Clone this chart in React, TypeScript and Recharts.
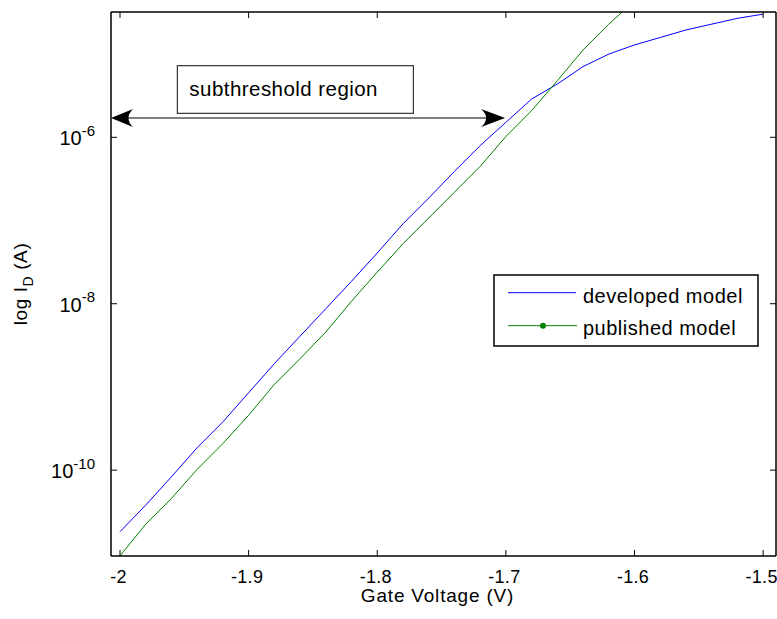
import React from 'react';
import { LineChart, Line, XAxis, YAxis, Legend, ReferenceLine, ReferenceArea } from 'recharts';

// Gate voltage (V)
const gateVoltage = [
  -2.0, -1.98, -1.96, -1.94, -1.92, -1.9, -1.88, -1.86, -1.84, -1.82, -1.8, -1.78, -1.76,
  -1.74, -1.72, -1.7, -1.68, -1.66, -1.64, -1.62, -1.6, -1.58, -1.56, -1.54, -1.52, -1.5,
];
// log10 of drain current (A)
const developedLogId = [
  -10.74, -10.42, -10.08, -9.73, -9.42, -9.07, -8.72, -8.39, -8.06, -7.73, -7.39, -7.04, -6.73,
  -6.41, -6.1, -5.82, -5.54, -5.36, -5.15, -5.0, -4.89, -4.8, -4.71, -4.64, -4.57, -4.52,
];
const publishedLogId: (number | null)[] = [
  -11.03, -10.65, -10.34, -9.99, -9.68, -9.34, -8.97, -8.66, -8.34, -7.97, -7.62, -7.28, -6.97,
  -6.66, -6.35, -5.99, -5.68, -5.32, -4.95, -4.64, -4.36, null, null, null, null, null,
];

const xTicks = [-2, -1.9, -1.8, -1.7, -1.6, -1.5];
const yTicks = [-10, -8, -6];
const xDomain = [-2.007, -1.49];
const yDomain = [-11.032, -4.494];
const seriesNames = ['developed model', 'published model'];
const seriesColors = ['#0000ff', '#008000'];
const xAxisTitle = 'Gate Voltage (V)';
const annotationText = 'subthreshold region';
const annotationBox = { x1: -1.9554, x2: -1.7719, y1: -5.712, y2: -5.139 };
const arrowSpan = { from: -2.007, to: -1.7006, level: -5.768 };

const FONT = '"Liberation Sans", Arial, Helvetica, sans-serif';

const rows = gateVoltage.map((v, i) => ({
  v,
  developed: developedLogId[i],
  published: publishedLogId[i],
}));

const BottomTick = (props: any) => {
  const { x, y, payload } = props;
  return (
    <g>
      <line x1={x} y1={y} x2={x} y2={y - 6} stroke="#000" strokeWidth={1} />
      <text x={x - 1.5} y={y + 26.7} textAnchor="middle" fontSize={18} letterSpacing={0.3} fontFamily={FONT} fill="#000">
        {String(payload.value)}
      </text>
    </g>
  );
};

const TopTick = (props: any) => {
  const { x, y } = props;
  return <line x1={x} y1={y} x2={x} y2={y + 6} stroke="#000" strokeWidth={1} />;
};

const LeftTick = (props: any) => {
  const { x, y, payload } = props;
  return (
    <g>
      <line x1={x} y1={y} x2={x + 6} y2={y} stroke="#000" strokeWidth={1} />
      <text x={x - 16} y={y + 8} textAnchor="end" fontFamily={FONT} fill="#000">
        <tspan fontSize={20}>10</tspan>
        <tspan fontSize={15} dy={-9.6}>{String(payload.value)}</tspan>
      </text>
    </g>
  );
};

const RightTick = (props: any) => {
  const { x, y } = props;
  return <line x1={x} y1={y} x2={x - 6} y2={y} stroke="#000" strokeWidth={1} />;
};

const YLabel = (props: any) => {
  const vb = props.viewBox || { x: 0, y: 12, width: 111, height: 544 };
  const x = vb.x + 27;
  const y = vb.y + vb.height / 2;
  return (
    <text
      x={x}
      y={y}
      transform={`rotate(-90 ${x} ${y})`}
      textAnchor="middle"
      fontFamily={FONT}
      fontSize={19}
      letterSpacing={0.6}
      fill="#000"
    >
      <tspan>log I</tspan>
      <tspan fontSize={14} dy={6}>D</tspan>
      <tspan dy={-6}> (A)</tspan>
    </text>
  );
};

const XLabel = (props: any) => {
  const vb = props.viewBox || { x: 111, y: 556, width: 665, height: 63 };
  return (
    <text
      x={vb.x + vb.width / 2 - 6}
      y={vb.y + 45.7}
      textAnchor="middle"
      fontFamily={FONT}
      fontSize={19}
      letterSpacing={0.8}
      fill="#000"
    >
      {xAxisTitle}
    </text>
  );
};

const ArrowShape = (props: any) => {
  const { x1, y1, x2, y2 } = props;
  const y = (y1 + y2) / 2;
  const left = Math.min(x1, x2);
  const right = Math.max(x1, x2);
  return (
    <g>
      <line x1={left + 8} y1={y} x2={right - 8} y2={y} stroke="#000" strokeWidth={1.2} />
      <path
        d={`M${left},${y} L${left + 22},${y - 9} Q${left + 13},${y} ${left + 22},${y + 9} Z`}
        fill="#000"
      />
      <path
        d={`M${right},${y} L${right - 24},${y - 9} Q${right - 14},${y} ${right - 24},${y + 9} Z`}
        fill="#000"
      />
    </g>
  );
};

const AnnotationShape = (props: any) => {
  const { x, y, width, height } = props;
  return (
    <g>
      <rect x={x} y={y} width={width} height={height} fill="#fff" stroke="#333" strokeWidth={1.2} />
      <text x={x + 12} y={y + height / 2 + 6} fontFamily={FONT} fontSize={20.5} letterSpacing={0.45} fill="#000">
        {annotationText}
      </text>
    </g>
  );
};

const LegendBox = () => (
  <svg width={268} height={75} style={{ display: 'block' }}>
    <rect x={1} y={1} width={264} height={71} fill="#fff" stroke="#000" strokeWidth={1.5} />
    <line x1={15} x2={83} y1={18.7} y2={18.7} stroke={seriesColors[0]} strokeWidth={1} />
    <text x={90} y={28.7} fontFamily={FONT} fontSize={20} letterSpacing={0.5} fill="#000">
      {seriesNames[0]}
    </text>
    <line x1={15} x2={84} y1={51.7} y2={51.7} stroke={seriesColors[1]} strokeWidth={1} />
    <circle cx={50} cy={51.7} r={3} fill={seriesColors[1]} />
    <text x={90} y={61} fontFamily={FONT} fontSize={20} letterSpacing={0.5} fill="#000">
      {seriesNames[1]}
    </text>
  </svg>
);

export default function App() {
  return (
    <div style={{ position: 'absolute', left: 0, top: 0, width: 777, height: 619, background: '#fff' }}>
      <LineChart width={777} height={619} data={rows} margin={{ top: 11, right: 0, bottom: 0, left: 0 }}>
        <XAxis
          dataKey="v"
          type="number"
          domain={xDomain}
          allowDataOverflow
          ticks={xTicks}
          interval={0}
          height={63}
          tickSize={0}
          tickMargin={0}
          tickLine={false}
          tick={<BottomTick />}
          axisLine={{ stroke: '#000', strokeWidth: 1.5 }}
          label={<XLabel />}
        />
        <XAxis
          xAxisId="top"
          orientation="top"
          dataKey="v"
          type="number"
          domain={xDomain}
          allowDataOverflow
          ticks={xTicks}
          interval={0}
          height={1}
          tickSize={0}
          tickMargin={0}
          tickLine={false}
          tick={<TopTick />}
          axisLine={{ stroke: '#000', strokeWidth: 1.5 }}
        />
        <YAxis
          type="number"
          domain={yDomain}
          allowDataOverflow
          ticks={yTicks}
          interval={0}
          width={111}
          tickSize={0}
          tickMargin={0}
          tickLine={false}
          tick={<LeftTick />}
          axisLine={{ stroke: '#000', strokeWidth: 1.5 }}
          label={<YLabel />}
        />
        <YAxis
          yAxisId="right"
          orientation="right"
          type="number"
          domain={yDomain}
          allowDataOverflow
          ticks={yTicks}
          interval={0}
          width={1}
          tickSize={0}
          tickMargin={0}
          tickLine={false}
          tick={<RightTick />}
          axisLine={{ stroke: '#000', strokeWidth: 1.5 }}
        />
        {/* invisible series bound to the box axes (top / right) so they render */}
        <Line
          xAxisId="top"
          yAxisId="right"
          dataKey="developed"
          stroke="none"
          dot={false}
          activeDot={false}
          legendType="none"
          isAnimationActive={false}
        />
        <Line
          dataKey="developed"
          name={seriesNames[0]}
          stroke={seriesColors[0]}
          strokeWidth={1}
          dot={false}
          type="linear"
          isAnimationActive={false}
        />
        <Line
          dataKey="published"
          name={seriesNames[1]}
          stroke={seriesColors[1]}
          strokeWidth={1}
          dot={false}
          type="linear"
          isAnimationActive={false}
        />
        <ReferenceArea
          x1={annotationBox.x1}
          x2={annotationBox.x2}
          y1={annotationBox.y1}
          y2={annotationBox.y2}
          ifOverflow="visible"
          shape={<AnnotationShape />}
        />
        <ReferenceLine
          segment={[
            { x: arrowSpan.from, y: arrowSpan.level },
            { x: arrowSpan.to, y: arrowSpan.level },
          ]}
          ifOverflow="visible"
          shape={<ArrowShape />}
        />
        <Legend
          layout="horizontal"
          verticalAlign="middle"
          align="center"
          wrapperStyle={{ left: 493, top: 274, width: 268, height: 75 }}
          content={<LegendBox />}
        />
      </LineChart>
    </div>
  );
}
